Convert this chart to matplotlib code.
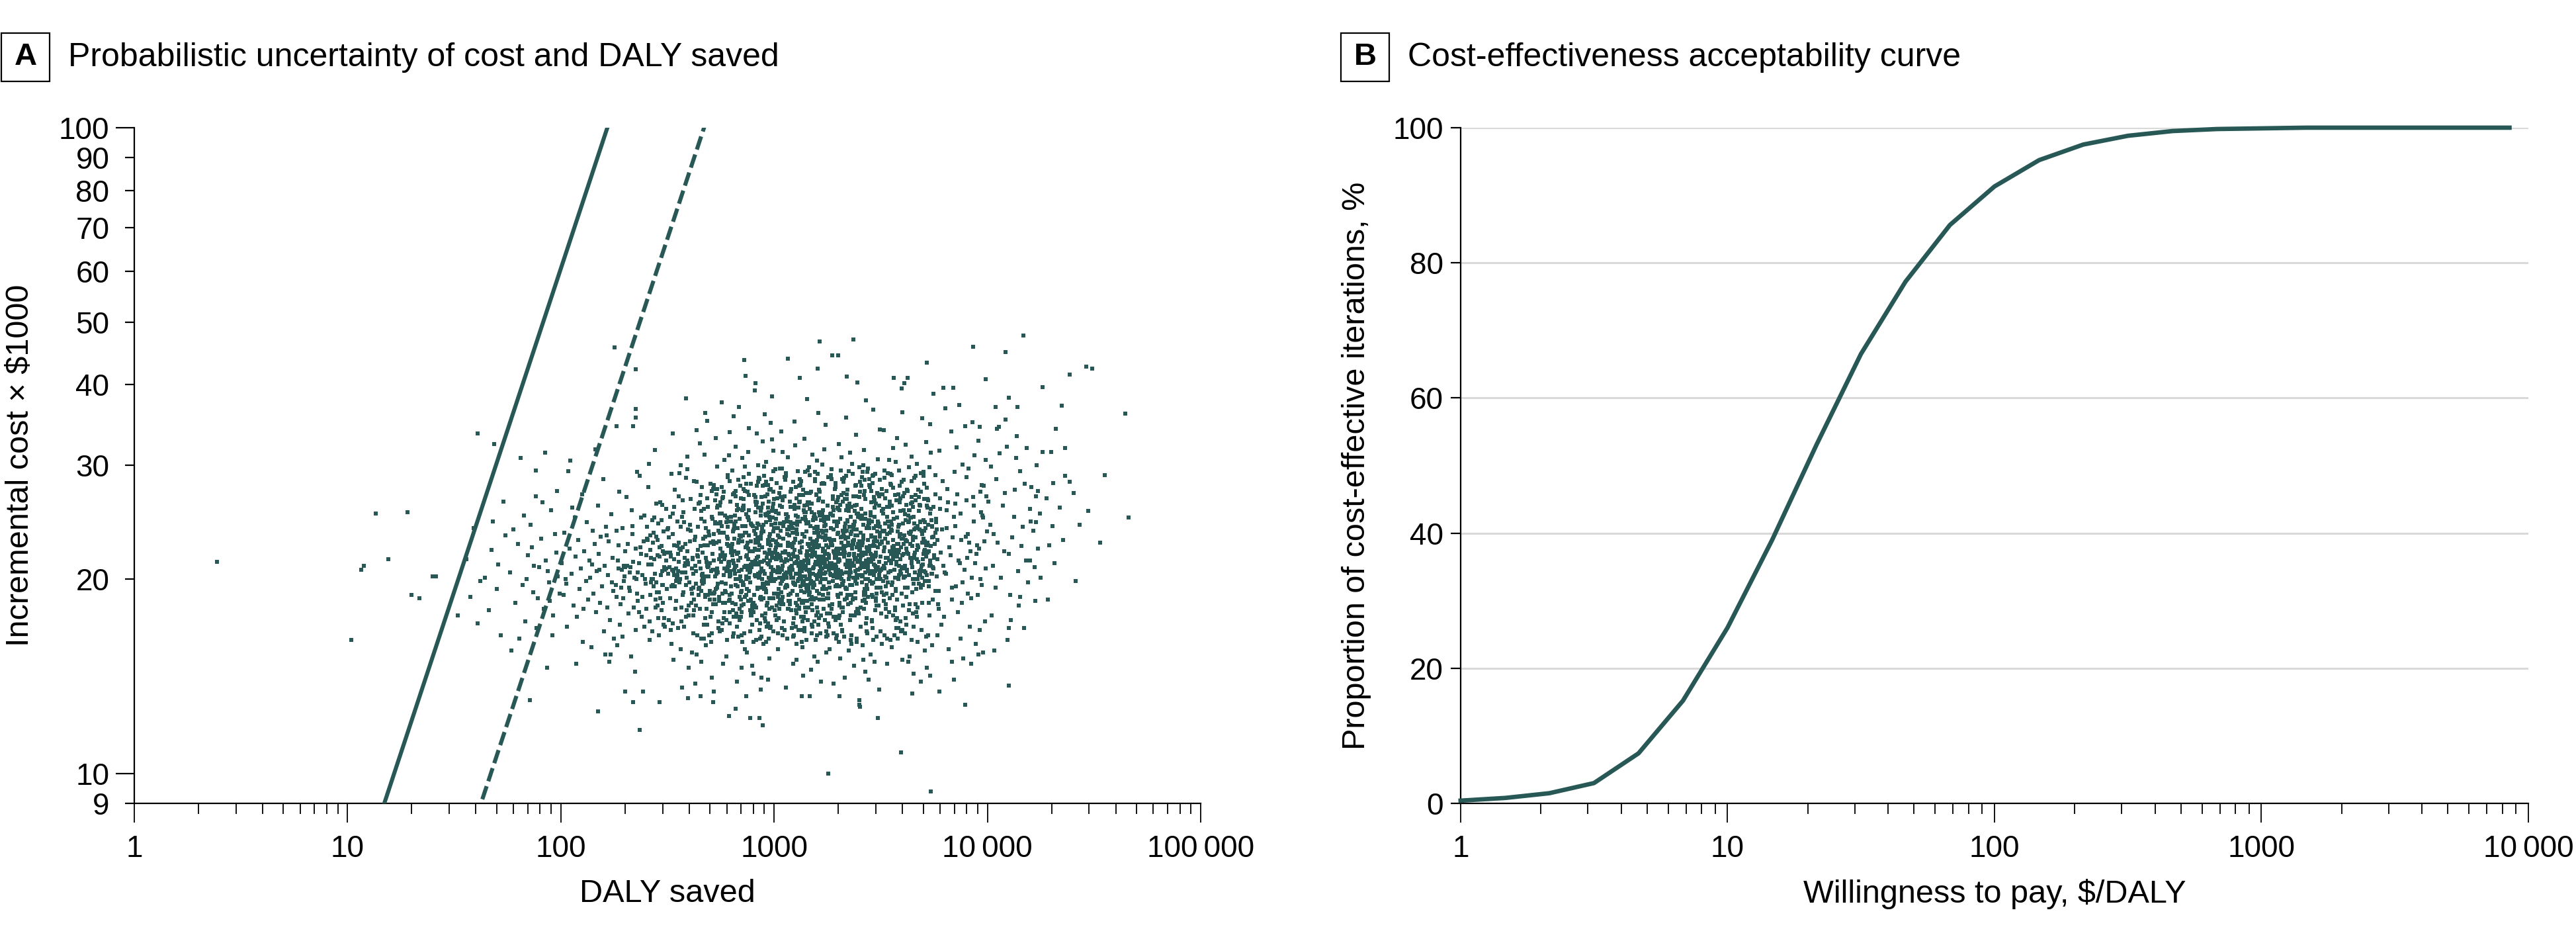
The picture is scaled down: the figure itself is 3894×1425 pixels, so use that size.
import numpy as np
import matplotlib
matplotlib.use("Agg")
import matplotlib.pyplot as plt
from matplotlib import ticker
from matplotlib.patches import Rectangle

plt.rcParams["font.family"] = ["Liberation Sans", "DejaVu Sans"]

TEAL = "#285856"

# ---- panel A: probabilistic draws (DALY saved, incremental cost in $1000) ----
psa_draws = [
    # far-left and outer points
    (2.45, 21.3), (10.4, 16.1), (11.6, 20.7), (11.9, 21.0), (13.6, 25.3), (19.1, 25.4), (15.5, 21.5),
    (20.0, 18.9), (21.8, 18.7), (25.0, 20.2), (25.9, 20.2), (40.6, 33.6), (48.6, 32.4), (33.0, 17.6),
    (179, 45.7), (224, 42.3), (224, 36.7), (224, 35.6), (183, 34.5), (65, 30.8), (84.5, 31.4), (76.4, 29.5),
    (108, 29.4), (76.4, 26.9), (53.8, 26.4), (47.9, 24.6), (47.5, 22.2), (37.7, 18.8), (40.8, 17.1),
    (52.3, 16.4), (58.7, 15.5), (71.5, 13.0), (86.5, 14.6), (150, 12.5), (234, 11.7), (201, 13.4),
    (218, 12.9), (118, 14.8), (162, 15.3), (171, 15.3),
    (614, 12.3), (659, 12.6), (774, 12.2), (851, 12.2), (883, 11.9), (396, 13.1), (452, 13.2), (523, 13.4),
    (519, 12.9), (1347, 13.2), (1469, 13.2), (2025, 13.2), (2501, 13.0), (2501, 12.8), (3069, 12.2),
    (3930, 10.8), (1790, 10.0), (5415, 9.4), (5954, 13.4), (7852, 12.8), (6839, 14.9), (9080, 15.3),
    (10800, 15.5), (12600, 13.7), (12600, 16.8), (14200, 18.8), (17700, 20.1), (15800, 21.4), (20700, 21.2),
    (33700, 22.8), (45800, 24.9), (27100, 24.3), (20200, 24.2), (16900, 24.5), (23200, 28.9), (24300, 28.3),
    (20400, 28.2), (17300, 27.4), (18200, 31.5), (19900, 31.5), (23100, 31.9), (22400, 37.1), (18200, 39.7),
    (24300, 41.5), (29100, 42.7), (31100, 42.4), (44200, 36.1), (14700, 47.7), (12200, 45.0), (8600, 45.8),
    (9800, 40.8), (10900, 37.0), (13800, 37.0), (12600, 38.2), (12200, 35.3), (11300, 34.4), (9200, 34.4),
    (5190, 43.3), (6220, 39.6), (6940, 39.6), (2360, 47.0), (1640, 46.7), (1870, 44.4), (2000, 44.4),
    (1160, 43.9), (725, 43.7), (1600, 42.4), (1320, 41.0), (2190, 41.2), (815, 40.2), (3650, 41.0),
    (4080, 40.2), (387, 38.1), (475, 36.2), (570, 37.6), (335, 33.6),
    (19500, 22.6), (21800, 25.8), (26000, 19.9), (18900, 26.7), (22700, 23.0), (25400, 27.2), (29800, 25.5),
    (35500, 29.0), (19200, 18.6), (21000, 34.2),
    # 32-56
    (44, 20.1), (50, 19.3), (36, 21.5), (55, 23.4), (42, 19.9), (46, 17.9), (51, 21.1), (39, 24.0),
    # 56-100
    (58, 20.5), (61, 18.4), (63, 22.7), (66, 19.6), (68, 17.2), (70, 21.8), (72, 24.3), (74, 19.1),
    (77, 16.8), (79, 20.9), (81, 23.1), (83, 18.0), (85, 21.4), (88, 19.8), (90, 25.6), (92, 17.6),
    (95, 22.0), (97, 20.2), (60, 23.9), (64, 16.2), (69, 20.0), (73, 22.4), (78, 18.7), (82, 26.3),
    (87, 20.6), (91, 16.4), (94, 23.5), (99, 19.0), (67, 25.1), (75, 21.0), (89, 18.5), (96, 27.4),
    # 100-178
    (101, 21.2), (103, 18.9), (104, 23.6), (106, 19.7), (107, 16.9), (110, 22.3), (112, 20.4), (113, 25.8),
    (115, 18.2), (117, 21.7), (119, 17.5), (121, 23.0), (122, 19.3), (124, 20.8), (126, 27.1), (127, 16.0),
    (129, 22.1), (131, 19.9), (132, 24.5), (134, 18.6), (136, 21.4), (137, 20.1), (139, 15.7), (141, 23.8),
    (142, 19.0), (144, 22.7), (146, 17.8), (147, 20.6), (149, 26.0), (151, 21.9), (153, 18.4), (154, 23.3),
    (156, 19.5), (158, 28.6), (159, 16.6), (161, 21.0), (163, 24.1), (165, 18.1), (166, 20.3), (168, 22.9),
    (170, 17.3), (172, 25.2), (174, 19.8), (175, 21.6), (177, 16.2), (105, 20.0), (116, 24.9), (128, 18.0),
    (140, 21.1), (152, 20.7), (164, 23.4), (176, 19.2), (111, 30.5), (145, 31.8), (169, 14.9),
    # 178-316
    (181, 19.6), (236, 22.4), (297, 17.9), (205, 21.0), (268, 24.7), (190, 18.3), (311, 20.8), (224, 16.7),
    (254, 23.1), (199, 20.2), (283, 19.1), (215, 25.6), (242, 18.8), (306, 21.9), (187, 22.6), (261, 17.2),
    (229, 20.5), (292, 26.3), (209, 19.4), (275, 21.5), (184, 15.8), (248, 20.0), (303, 23.7), (220, 18.1),
    (265, 19.8), (195, 24.0), (288, 16.4), (232, 21.2), (257, 27.8), (212, 20.9), (279, 18.6), (201, 22.1),
    (314, 19.3), (239, 17.5), (271, 22.8), (193, 20.7), (246, 25.1), (300, 18.4), (217, 23.5), (260, 16.1),
    (185, 21.4), (294, 20.3), (227, 19.0), (252, 21.8), (208, 17.7), (281, 23.3), (197, 19.9), (234, 28.9),
    (309, 22.0), (263, 18.9), (221, 20.1), (286, 24.4), (189, 17.0), (244, 22.9), (273, 19.5), (203, 26.8),
    (299, 20.6), (230, 18.5), (258, 21.1), (213, 15.2), (277, 20.4), (182, 23.8), (250, 19.7), (305, 17.4),
    (225, 22.3), (266, 20.0), (196, 18.7), (290, 21.7), (238, 24.9), (211, 19.2), (269, 16.6), (186, 20.8),
    (255, 23.0), (302, 19.6), (219, 21.3), (284, 18.2), (206, 22.7), (241, 20.3), (312, 25.7), (233, 17.8),
    (264, 21.6), (192, 19.4), (296, 22.5), (226, 20.0), (251, 18.0), (216, 24.2), (280, 19.8), (198, 21.0),
    (247, 16.9), (307, 20.7), (272, 23.6), (183, 18.8), (237, 21.9), (289, 19.1), (210, 20.5), (259, 30.2),
    (223, 14.4), (298, 26.1), (200, 20.9), (276, 31.7), (218, 34.5), (243, 13.4), (291, 12.9), (188, 27.3),
    (253, 24.1), (304, 17.0), (228, 29.3), (262, 22.2), (194, 16.3), (285, 21.8),
    # 316-562
    (318, 20.4), (402, 22.9), (527, 18.6), (351, 24.6), (468, 19.8), (335, 17.1), (553, 21.5), (389, 20.1),
    (441, 26.2), (372, 18.9), (495, 23.4), (327, 21.7), (419, 16.5), (540, 20.8), (361, 22.3), (456, 19.2),
    (343, 27.5), (511, 17.8), (396, 21.1), (480, 24.0), (331, 19.5), (430, 20.6), (558, 25.3), (378, 16.9),
    (463, 22.0), (349, 20.0), (519, 18.3), (407, 23.8), (488, 20.9), (365, 15.6), (436, 21.8), (322, 23.2),
    (545, 19.7), (384, 20.5), (474, 17.4), (357, 21.3), (503, 28.1), (413, 19.0), (339, 22.6), (530, 20.2),
    (448, 18.0), (370, 25.0), (492, 21.0), (325, 18.7), (424, 23.0), (549, 17.2), (393, 22.1), (459, 20.3),
    (346, 19.9), (515, 24.8), (381, 21.6), (470, 16.2), (333, 20.7), (537, 22.8), (410, 18.4), (484, 26.7),
    (362, 20.0), (445, 19.4), (523, 21.4), (399, 17.6), (320, 22.0), (466, 23.1), (376, 19.1), (506, 20.6),
    (433, 15.3), (354, 21.9), (556, 23.6), (417, 20.4), (477, 18.8), (341, 25.9), (498, 21.2), (387, 19.6),
    (451, 22.5), (329, 16.7), (534, 19.3), (404, 24.3), (462, 20.1), (368, 18.1), (520, 22.7), (426, 21.0),
    (347, 20.8), (486, 17.0), (391, 29.6), (543, 20.5), (438, 22.2), (359, 19.8), (508, 16.0), (415, 21.6),
    (336, 23.5), (473, 20.2), (552, 18.5), (374, 22.4), (457, 25.5), (323, 20.9), (499, 19.0), (421, 17.9),
    (383, 21.2), (528, 24.5), (444, 18.9), (352, 20.3), (490, 22.6), (408, 19.3), (340, 21.5), (547, 16.8),
    (467, 20.0), (395, 23.9), (514, 20.7), (429, 18.2), (358, 22.8), (482, 21.3), (334, 19.6), (453, 27.0),
    (538, 20.4), (386, 17.5), (475, 23.3), (412, 20.8), (525, 19.1), (366, 24.1), (440, 21.7), (501, 18.6),
    (326, 25.0), (461, 19.7), (380, 21.0), (517, 22.9), (435, 16.4), (355, 20.6), (494, 23.7), (418, 19.4),
    (559, 21.8), (345, 18.0), (471, 31.2), (398, 14.6), (532, 33.1), (427, 13.8), (364, 30.0), (509, 14.1),
    (449, 32.5), (338, 15.0), (487, 35.2), (422, 28.4), (541, 29.9), (373, 26.5), (455, 14.9), (518, 27.6),
    (392, 31.0), (330, 29.1), (478, 15.8), (433, 34.0), (555, 26.0), (369, 13.6),
    # 562-1000
    (565, 21.3), (712, 19.6), (934, 23.0), (618, 20.2), (801, 17.8), (877, 22.4), (655, 25.1), (989, 20.7),
    (741, 18.9), (590, 21.8), (846, 24.3), (687, 20.0), (963, 16.9), (603, 22.7), (776, 21.1), (912, 19.3),
    (638, 18.4), (728, 23.6), (859, 20.5), (578, 26.8), (954, 21.9), (669, 17.5), (822, 22.2), (701, 19.9),
    (985, 24.9), (625, 20.6), (788, 18.2), (897, 21.4), (572, 19.0), (751, 22.8), (943, 20.1), (646, 23.9),
    (833, 19.4), (680, 16.3), (970, 22.0), (611, 21.2), (764, 25.6), (888, 18.7), (724, 20.9), (597, 17.3),
    (868, 23.3), (693, 21.6), (925, 19.8), (632, 22.5), (812, 20.3), (976, 18.1), (662, 27.4), (745, 21.0),
    (853, 16.7), (584, 20.8), (958, 23.5), (706, 19.2), (795, 22.1), (621, 18.6), (904, 20.4), (736, 24.2),
    (675, 19.5), (839, 21.7), (994, 20.0), (607, 23.1), (770, 17.9), (881, 21.3), (650, 20.7), (948, 22.9),
    (717, 18.3), (571, 22.0), (826, 26.1), (696, 20.2), (919, 19.1), (758, 21.5), (628, 24.6), (865, 18.8),
    (981, 21.8), (685, 20.6), (805, 23.8), (594, 19.7), (937, 17.1), (733, 22.4), (659, 20.0), (850, 21.1),
    (909, 25.2), (614, 18.5), (781, 20.9), (967, 22.6), (708, 16.0), (641, 21.4), (891, 23.7), (748, 19.3),
    (580, 20.3), (817, 22.8), (952, 18.0), (672, 21.9), (842, 20.4), (999, 24.0), (719, 19.6), (600, 23.3),
    (873, 20.8), (785, 17.6), (930, 21.2), (652, 22.1), (767, 20.5), (915, 28.3), (634, 19.0), (829, 21.6),
    (690, 23.4), (961, 20.1), (575, 18.4), (754, 22.3), (884, 19.7), (715, 25.8), (988, 20.6), (616, 21.0),
    (808, 18.9), (940, 22.7), (666, 17.7), (862, 21.3), (740, 20.0), (599, 24.5), (896, 19.5), (779, 22.9),
    (973, 20.9), (644, 16.5), (837, 23.2), (703, 20.7), (922, 18.2), (586, 21.5), (760, 27.0), (857, 19.4),
    (629, 22.0), (984, 21.6), (698, 18.6), (816, 20.2), (945, 25.4), (567, 19.8), (743, 21.8), (870, 23.6),
    (657, 20.4), (906, 17.4), (792, 21.1), (611, 22.5), (957, 19.9), (730, 15.6), (848, 22.2), (679, 21.4),
    (993, 18.7), (624, 26.4), (773, 20.6), (927, 21.9), (589, 19.2), (820, 23.0), (710, 30.8), (885, 32.7),
    (637, 29.5), (966, 34.9), (756, 31.5), (606, 28.8), (901, 36.0), (799, 14.3), (671, 13.9), (950, 15.1),
    (727, 29.9), (832, 33.6), (577, 14.8), (979, 38.4), (692, 27.9), (866, 13.5), (615, 31.1), (917, 30.4),
    (747, 15.4), (647, 35.8), (855, 28.6), (991, 29.4), (703, 14.6), (583, 30.6), (811, 39.2), (936, 14.0),
    (661, 32.1), (777, 28.1), (892, 15.9), (619, 33.8), (962, 27.6), (735, 41.3), (844, 30.0), (596, 15.2),
    (686, 37.0), (913, 26.9), (789, 14.7), (651, 27.2), (977, 32.9), (720, 26.6), (874, 14.1), (608, 29.0),
    (762, 34.3), (941, 16.2), (678, 28.5), (827, 26.3), (568, 27.8), (995, 31.6), (739, 13.2), (902, 28.0),
    # 1000-1778
    (1012, 21.6), (1354, 19.8), (1703, 23.2), (1129, 20.4), (1488, 22.7), (1261, 17.9), (1617, 21.1),
    (1067, 24.4), (1420, 20.0), (1756, 19.3), (1188, 22.5), (1536, 18.6), (1305, 25.8), (1043, 20.9),
    (1662, 21.7), (1392, 16.8), (1221, 23.6), (1571, 20.3), (1098, 18.8), (1727, 22.1), (1335, 21.3),
    (1459, 26.3), (1156, 19.5), (1640, 20.6), (1024, 22.9), (1287, 18.2), (1513, 21.9), (1741, 24.8),
    (1200, 20.1), (1377, 17.4), (1082, 21.4), (1594, 23.0), (1432, 19.6), (1249, 22.2), (1685, 20.8),
    (1141, 25.2), (1364, 18.5), (1034, 20.5), (1552, 21.8), (1766, 17.7), (1275, 23.9), (1110, 20.2),
    (1473, 19.1), (1628, 22.6), (1210, 21.0), (1403, 27.2), (1055, 18.4), (1715, 21.5), (1322, 20.7),
    (1174, 23.4), (1500, 16.5), (1673, 20.0), (1240, 22.8), (1089, 19.9), (1445, 21.2), (1583, 24.1),
    (1001, 19.0), (1346, 20.6), (1698, 23.7), (1167, 18.0), (1527, 22.3), (1296, 20.4), (1745, 21.0),
    (1120, 26.9), (1413, 19.4), (1608, 21.6), (1075, 22.6), (1231, 17.1), (1651, 20.3), (1383, 23.3),
    (1194, 20.9), (1562, 18.7), (1029, 21.8), (1316, 24.6), (1480, 19.7), (1734, 22.0), (1148, 20.5),
    (1270, 15.9), (1635, 21.4), (1438, 22.7), (1060, 20.1), (1548, 24.0), (1216, 19.2), (1372, 21.1),
    (1692, 18.9), (1101, 23.1), (1466, 20.7), (1601, 22.4), (1255, 19.6), (1018, 25.5), (1340, 20.0),
    (1776, 21.9), (1182, 18.3), (1507, 22.9), (1397, 20.8), (1049, 19.3), (1667, 23.8), (1283, 21.7),
    (1136, 20.2), (1575, 17.6), (1425, 21.5), (1719, 20.4), (1203, 24.3), (1095, 21.0), (1311, 18.6),
    (1492, 22.2), (1645, 19.8), (1037, 20.6), (1359, 23.5), (1244, 21.2), (1590, 20.0), (1161, 22.8),
    (1452, 18.1), (1708, 21.6), (1072, 19.7), (1292, 25.0), (1530, 20.9), (1388, 21.4), (1226, 16.3),
    (1623, 22.5), (1115, 20.3), (1760, 23.1), (1329, 19.5), (1484, 21.8), (1007, 22.0), (1658, 20.6),
    (1196, 19.0), (1410, 24.7), (1266, 20.4), (1567, 21.3), (1085, 18.5), (1728, 21.9), (1349, 22.4),
    (1143, 20.1), (1519, 19.4), (1612, 23.6), (1237, 21.7), (1053, 20.8), (1440, 17.3), (1689, 22.1),
    (1301, 20.0), (1171, 23.9), (1556, 21.1), (1379, 19.9), (1024, 21.5), (1748, 20.5), (1213, 22.7),
    (1462, 18.9), (1105, 24.2), (1638, 20.2), (1333, 21.0), (1585, 19.2), (1257, 23.0), (1069, 20.6),
    (1496, 21.7), (1418, 16.1), (1700, 22.3), (1185, 20.8), (1542, 19.6), (1278, 21.3), (1125, 22.0),
    (1365, 18.4), (1666, 21.6), (1040, 23.4), (1474, 20.3), (1233, 19.8), (1599, 22.6), (1318, 20.9),
    (1772, 18.7), (1153, 21.4), (1503, 25.4), (1395, 20.2), (1084, 19.1), (1630, 23.3), (1219, 20.7),
    (1431, 22.1), (1712, 19.5), (1289, 21.2), (1015, 20.0), (1560, 24.9), (1179, 21.8), (1447, 19.3),
    (1621, 20.4), (1342, 28.4), (1063, 29.7), (1512, 31.2), (1207, 27.6), (1681, 30.1), (1390, 33.0),
    (1122, 28.8), (1573, 27.1), (1253, 32.2), (1035, 26.7), (1738, 34.7), (1469, 29.0), (1164, 30.9),
    (1613, 36.2), (1308, 27.9), (1093, 31.5), (1426, 38.0), (1695, 28.2), (1229, 14.8), (1549, 15.2),
    (1371, 14.2), (1046, 15.6), (1655, 13.9), (1272, 15.0), (1493, 14.5), (1133, 13.6), (1753, 15.4),
    (1401, 29.3), (1189, 26.4), (1587, 30.5), (1311, 27.0), (1080, 33.9), (1723, 31.8), (1437, 26.2),
    (1249, 35.1), (1604, 14.9), (1361, 15.7),
    # 1778-3162
    (1789, 22.4), (2356, 20.1), (3054, 23.7), (2011, 21.5), (2678, 19.2), (1912, 24.6), (2877, 21.8),
    (2189, 18.7), (2512, 22.9), (3121, 20.6), (1842, 20.3), (2443, 25.3), (2760, 21.0), (2095, 19.6),
    (2958, 22.5), (2271, 20.8), (1951, 17.5), (2615, 23.4), (3102, 21.3), (2140, 22.0), (2398, 19.9),
    (1815, 23.1), (2823, 20.4), (2047, 26.1), (2553, 21.7), (2991, 18.5), (2226, 22.8), (1880, 20.9),
    (2707, 24.0), (2330, 21.2), (3013, 19.4), (2119, 23.6), (2470, 20.7), (1990, 22.2), (2641, 18.9),
    (2914, 21.5), (2298, 25.9), (1863, 21.0), (2587, 19.8), (3140, 22.7), (2066, 20.5), (2738, 22.1),
    (2417, 17.8), (1929, 21.9), (2850, 23.3), (2248, 20.2), (2531, 21.4), (3077, 24.4), (2170, 19.3),
    (1801, 21.6), (2680, 20.0), (2362, 23.0), (2935, 21.1), (2033, 18.2), (2495, 22.6), (2789, 20.6),
    (2205, 24.7), (1967, 20.1), (2601, 21.8), (3030, 19.0), (2313, 22.3), (1895, 25.6), (2720, 20.9),
    (2452, 21.3), (2104, 23.8), (2868, 19.7), (2567, 22.0), (1828, 20.4), (2985, 21.7), (2282, 18.4),
    (2153, 22.5), (2660, 21.0), (3115, 20.3), (2388, 23.9), (1940, 19.5), (2803, 22.2), (2520, 20.8),
    (2074, 21.9), (2947, 26.8), (2235, 20.0), (1853, 22.8), (2630, 19.1), (2427, 21.6), (3068, 22.4),
    (2002, 20.7), (2748, 24.2), (2345, 21.1), (2894, 18.8), (2128, 22.3), (2579, 20.2), (1979, 23.5),
    (2698, 21.4), (3006, 20.9), (2264, 19.6), (2480, 22.7), (1822, 21.2), (2836, 25.1), (2197, 20.5),
    (2611, 22.0), (3150, 19.4), (2371, 21.8), (2058, 23.2), (2924, 20.6), (2545, 18.1), (1905, 22.1),
    (2776, 21.5), (2305, 23.7), (2462, 20.1), (3043, 22.9), (2112, 19.9), (2655, 24.8), (1871, 20.8),
    (2857, 21.3), (2219, 22.6), (2589, 20.3), (1958, 21.7), (2729, 19.3), (2406, 23.4), (2971, 21.0),
    (2083, 20.4), (2502, 22.2), (3091, 20.7), (2254, 21.9), (1836, 23.0), (2690, 20.0), (2339, 18.6),
    (2815, 22.5), (2161, 21.1), (2623, 23.1), (1998, 20.2), (2906, 21.6), (2436, 19.7), (2765, 24.5),
    (2021, 21.4), (2556, 20.9), (3126, 23.6), (2289, 20.5), (1919, 22.0), (2669, 19.0), (2385, 21.5),
    (2940, 20.3), (2137, 23.3), (2487, 21.8), (1808, 19.8), (2712, 22.4), (3022, 20.0), (2242, 21.3),
    (2571, 25.7), (1946, 20.6), (2839, 21.9), (2323, 30.2), (2089, 28.6), (2640, 31.7), (2975, 29.1),
    (1934, 27.8), (2414, 33.5), (2797, 28.0), (2177, 35.6), (2533, 27.3), (3061, 30.7), (1860, 29.6),
    (2701, 37.8), (2356, 26.9), (2012, 32.4), (2886, 28.9), (2458, 40.3), (2211, 27.5), (2612, 30.0),
    (3136, 34.1), (1985, 26.5), (2740, 29.3), (2273, 31.4), (2519, 28.3), (2922, 36.6), (2064, 27.0),
    (2376, 14.7), (2831, 15.3), (2150, 14.1), (2597, 15.8), (1897, 13.8), (2958, 14.9), (2232, 15.5),
    (2681, 14.4), (2044, 15.1), (3107, 13.5), (2446, 16.0), (1819, 15.6), (2770, 14.0), (2300, 15.9),
    (2535, 12.7), (2909, 16.1), (2124, 16.3), (2622, 15.0), (1975, 16.4), (2388, 26.0), (2856, 27.4),
    (2188, 26.6), (2504, 29.8), (3010, 26.2), (2075, 30.9),
    # 3162-5623
    (3189, 22.9), (4207, 20.6), (5511, 24.1), (3602, 21.8), (4788, 19.7), (3395, 23.5), (5102, 22.2),
    (3856, 20.3), (4512, 25.0), (5390, 21.4), (3287, 20.8), (4379, 23.7), (4965, 21.1), (3715, 19.2),
    (5233, 22.8), (4058, 21.9), (3478, 26.4), (4644, 20.0), (5589, 23.3), (3933, 22.4), (3240, 19.9),
    (4290, 24.6), (4873, 20.7), (3649, 22.1), (5330, 19.5), (4132, 23.0), (3531, 21.2), (4712, 22.6),
    (5460, 20.4), (3782, 24.9), (3344, 21.6), (4445, 19.1), (5038, 23.8), (3980, 20.9), (4580, 22.0),
    (3207, 25.5), (5167, 21.7), (3688, 20.1), (4335, 22.7), (5555, 18.6), (3878, 23.4), (4910, 21.0),
    (3427, 20.5), (4163, 22.3), (5290, 24.3), (3579, 19.8), (4681, 21.5), (4021, 23.1), (5421, 22.5),
    (3310, 20.2), (4826, 26.0), (3750, 21.3), (4478, 20.0), (5075, 22.9), (3491, 23.6), (4237, 19.4),
    (5611, 21.8), (3905, 20.6), (4609, 24.0), (3268, 22.1), (5198, 20.3), (3625, 23.0), (4410, 21.2),
    (4995, 19.6), (3815, 22.7), (4094, 25.2), (5366, 21.0), (3372, 19.0), (4755, 22.4), (3955, 20.8),
    (4546, 23.9), (5131, 20.5), (3545, 21.9), (4311, 18.3), (5487, 23.2), (3736, 21.1), (4852, 20.4),
    (3226, 23.8), (4183, 22.0), (5004, 24.7), (3663, 20.7), (4628, 19.3), (5259, 22.6), (3449, 21.4),
    (4036, 20.1), (4931, 23.5), (3841, 22.2), (5528, 20.9), (4362, 21.6), (3324, 24.4), (4731, 21.3),
    (3593, 18.9), (5060, 22.1), (4113, 20.2), (4488, 23.3), (3920, 21.5), (5315, 19.9), (3412, 22.8),
    (4267, 24.5), (4803, 20.6), (3706, 30.4), (4556, 28.7), (5147, 32.6), (3352, 27.4), (4423, 31.0),
    (3995, 36.3), (4890, 29.2), (5404, 34.8), (3517, 28.1), (4221, 41.0), (5218, 27.7), (3771, 33.1),
    (4665, 30.2), (3295, 29.5), (4078, 27.2), (5570, 38.7), (3617, 31.9), (4399, 28.4), (4952, 35.5),
    (3872, 27.9), (5350, 29.8), (3464, 30.6), (4144, 32.3), (4772, 26.8), (3258, 34.0), (5016, 28.9),
    (3960, 39.5), (4597, 26.5), (5444, 31.4), (3682, 27.0), (4327, 15.2), (5182, 14.6), (3555, 15.7),
    (4860, 13.9), (3799, 16.2), (4519, 14.3), (3198, 15.9), (5279, 16.4), (4005, 15.0), (4697, 16.0),
    (3390, 14.8), (5090, 15.5), (3941, 16.6), (4456, 13.3), (5500, 15.8), (3734, 16.8), (4246, 14.9),
    (3505, 16.1), (4917, 16.7), (5380, 14.2), (3305, 26.7), (4170, 26.1), (4743, 27.5), (3892, 26.3),
    (5242, 25.8), (3574, 29.0), (4485, 25.9), (5046, 26.6), (3826, 27.1), (4279, 25.6),
    # 5623-10000
    (5702, 23.6), (7411, 21.2), (9520, 24.9), (6290, 20.5), (8233, 22.8), (5980, 25.7), (8870, 21.9),
    (6815, 19.4), (7901, 23.3), (9811, 20.8), (5840, 21.5), (7052, 24.2), (9154, 22.3), (6538, 26.3),
    (8452, 20.1), (5655, 22.7), (7670, 19.8), (9367, 25.4), (6144, 23.9), (8041, 21.6), (7220, 27.1),
    (5920, 19.2), (8650, 24.6), (6701, 21.8), (9672, 22.9), (6388, 20.4), (7545, 23.0), (9020, 18.9),
    (5751, 24.5), (8321, 22.1), (6950, 25.0), (7789, 20.7), (9950, 23.7), (6051, 22.0), (8590, 26.8),
    (7322, 21.4), (6447, 24.0), (9255, 20.0), (5880, 18.3), (8125, 23.5), (6620, 22.4), (7108, 19.5),
    (8785, 21.2), (9601, 27.9), (6218, 21.0), (7485, 25.3), (8950, 22.6), (5780, 20.2), (8368, 18.7),
    (6880, 23.2), (7620, 30.1), (6180, 28.4), (9080, 32.8), (7012, 29.3), (8505, 35.0), (5960, 31.6),
    (9430, 28.0), (6755, 33.9), (8180, 29.7), (7380, 37.2), (9785, 30.6), (6490, 27.6), (8720, 31.1),
    (5698, 29.0), (7850, 34.5), (9305, 27.3), (6330, 36.8), (8010, 28.8), (7160, 32.0), (9880, 26.9),
    (6590, 15.6), (8410, 14.8), (5830, 16.4), (7720, 15.1), (9180, 16.7), (6985, 14.0), (8850, 15.9),
    (6100, 17.0), (7470, 16.2), (9560, 15.4), (6260, 17.5), (8280, 16.9), (7265, 17.8), (9720, 17.2),
    (5900, 18.0), (8660, 26.0), (6430, 25.6), (7960, 26.5), (9470, 25.1), (7075, 26.2), (6800, 18.6),
    (8090, 19.0), (9390, 19.6), (6015, 26.7), (7590, 18.4),
    # 10000-17783
    (10300, 24.3), (12600, 21.9), (15800, 25.7), (11200, 22.8), (13900, 20.6), (16900, 26.9), (10700, 23.5),
    (14600, 24.1), (12100, 27.2), (17300, 22.3), (11600, 20.1), (13300, 25.0), (15200, 21.4), (10100, 26.4),
    (16400, 23.8), (12800, 18.9), (14200, 29.4), (11000, 28.6), (15500, 19.8), (13600, 30.8), (10500, 17.6),
    (12300, 32.1), (16100, 27.8), (14900, 16.8), (11400, 31.3), (13100, 23.2), (17000, 30.0), (10900, 19.4),
    (15000, 28.1), (12400, 16.1), (14400, 22.5), (11800, 26.0), (16600, 20.9), (13400, 27.5), (10400, 29.9),
    (15900, 24.6), (12900, 17.3), (11100, 34.2), (14000, 18.2), (17600, 25.3), (12000, 22.1), (13700, 33.3),
    (10600, 21.0), (15300, 31.9), (16800, 18.5),
    # dense core, 250-600
    (262, 23.4), (418, 17.6), (587, 25.1), (305, 20.9), (471, 22.6), (354, 16.8), (539, 19.4), (281, 26.2),
    (446, 21.3), (398, 18.2), (512, 27.4), (327, 21.8), (574, 17.1), (379, 24.5), (458, 19.9), (293, 18.7),
    (551, 22.9), (424, 25.7), (341, 20.3), (497, 16.4), (267, 21.1), (433, 28.3), (596, 20.6), (316, 23.9),
    (482, 18.0), (365, 22.2), (529, 24.4), (286, 17.4), (452, 20.8), (407, 26.6), (520, 19.0), (336, 25.3),
    (563, 21.7), (389, 17.9), (465, 23.1), (299, 19.6), (545, 26.0), (414, 21.5), (348, 18.5), (505, 22.8),
    (274, 24.9), (441, 19.3), (581, 23.6), (321, 17.3), (489, 25.9), (371, 20.5), (533, 18.3), (290, 22.4),
    (460, 27.8), (401, 19.8), (516, 21.9), (331, 15.9), (569, 24.2), (384, 22.7), (476, 18.9), (311, 21.4),
    (557, 16.6), (428, 23.3), (358, 26.9), (493, 20.2), (279, 18.1), (438, 24.1), (592, 19.1), (325, 22.0),
    (468, 17.0), (376, 25.4), (525, 20.7), (296, 24.7), (455, 16.2), (395, 21.2), (509, 25.0), (343, 19.5),
    (560, 22.3), (386, 28.7), (479, 21.6), (308, 16.9), (548, 23.8), (421, 18.6), (352, 22.5), (500, 19.2),
    (271, 20.0), (449, 26.3), (585, 17.8), (318, 24.0), (486, 21.0), (368, 17.2), (536, 27.1), (284, 23.0),
    (463, 20.4), (411, 15.4), (522, 23.5), (338, 20.6), (571, 26.7), (392, 21.4), (473, 24.6), (302, 22.1),
    (553, 18.8), (431, 19.7), (361, 29.2), (502, 17.5),
    # dense core, 600-1200
    (612, 22.6), (897, 19.3), (1143, 24.8), (735, 21.0), (1015, 17.6), (668, 26.1), (952, 22.2), (803, 18.4),
    (1087, 20.7), (641, 23.7), (869, 25.5), (1171, 18.9), (762, 20.1), (990, 27.3), (703, 17.8), (925, 21.6),
    (1056, 23.2), (628, 19.5), (842, 22.9), (1119, 16.7), (784, 24.3), (971, 20.4), (690, 18.0), (1032, 21.9),
    (819, 26.8), (655, 20.9), (908, 17.2), (1158, 22.5), (749, 25.0), (1003, 19.0), (615, 21.3), (881, 23.9),
    (1101, 20.0), (725, 16.5), (958, 24.7), (677, 22.0), (1068, 18.6), (831, 21.2), (1190, 25.9), (771, 19.8),
    (938, 28.0), (646, 17.5), (1020, 22.8), (856, 20.3), (712, 23.4), (1134, 21.5), (797, 18.3), (985, 25.8),
    (621, 20.5), (916, 19.2), (1045, 24.0), (742, 21.7), (874, 16.3), (1180, 20.8), (683, 23.0), (966, 18.7),
    (810, 22.3), (1094, 26.5), (658, 19.6), (944, 21.1), (1008, 17.9), (757, 24.9), (891, 20.6), (1152, 23.5),
    (634, 22.4), (826, 18.1), (1062, 21.8), (718, 27.6), (979, 20.0), (863, 23.1), (1125, 19.4), (695, 21.6),
    (932, 25.3), (790, 17.0), (1039, 22.6), (604, 24.1), (850, 20.2), (1185, 18.5), (767, 22.1), (997, 19.9),
    (672, 25.6), (921, 16.9), (1076, 23.8), (815, 21.4), (728, 18.8), (1110, 24.5), (961, 20.9), (639, 22.7),
    (884, 26.2), (1027, 18.2), (753, 20.7), (1166, 21.9), (838, 24.4), (700, 19.1), (949, 23.3), (1050, 17.4),
    (624, 20.3), (903, 22.0), (1137, 25.2), (780, 18.6), (976, 21.7), (662, 24.6), (1083, 20.1), (822, 16.1),
    (738, 23.6), (1012, 22.2), (895, 19.7), (1175, 24.0), (648, 21.2), (806, 27.0), (929, 18.4), (1058, 20.5),
    (709, 22.9), (1147, 19.6), (867, 25.1), (617, 18.9), (989, 23.7), (775, 20.8), (1092, 16.8), (687, 24.8),
    (954, 21.4), (835, 19.3), (1023, 25.4), (744, 22.5), (1163, 18.0), (876, 20.0), (652, 23.1), (1070, 21.6),
    (795, 24.2), (912, 17.7), (1001, 20.6), (721, 25.7), (1128, 22.1), (858, 18.7), (636, 21.8), (942, 26.4),
    (1047, 19.0), (764, 23.4), (1194, 20.4), (828, 17.3), (680, 22.8), (968, 24.3), (1105, 18.3), (787, 21.3),
    (887, 27.9), (607, 20.9), (1036, 22.7), (715, 19.8), (1155, 23.9), (846, 20.1), (994, 16.6), (664, 21.0),
    (919, 24.5), (1079, 20.7), (754, 18.5), (1018, 22.4), (871, 25.8), (1140, 19.5), (697, 23.3), (812, 21.1),
    (935, 19.7), (1065, 26.0), (630, 22.3), (779, 17.6), (982, 23.0), (1116, 21.3), (738, 20.2), (900, 28.9),
    (1041, 18.8), (673, 24.0), (853, 22.6), (1178, 20.6), (760, 19.2), (947, 25.0), (1029, 21.5), (642, 17.9),
    (818, 23.5), (1098, 22.0), (706, 18.2), (973, 20.3),
    # dense core, 1200-2500
    (1231, 21.9), (1788, 18.7), (2390, 24.6), (1455, 22.5), (2041, 20.1), (1310, 26.3), (1912, 23.0),
    (1602, 17.8), (2214, 21.4), (1376, 19.6), (1705, 24.9), (2455, 20.7), (1527, 22.2), (1267, 16.9),
    (1985, 25.8), (1650, 20.4), (2302, 18.9), (1421, 23.7), (1829, 21.1), (2120, 27.2), (1338, 19.2),
    (1576, 22.8), (2006, 17.4), (1744, 23.4), (2367, 21.0), (1248, 24.4), (1489, 19.9), (1876, 22.6),
    (2178, 20.5), (1622, 26.7), (1399, 18.1), (2083, 23.3), (1293, 21.6), (1681, 19.3), (2431, 22.4),
    (1545, 25.2), (1952, 20.9), (1358, 17.2), (2261, 24.1), (1812, 21.8), (1467, 20.0), (1719, 28.1),
    (2148, 18.6), (1216, 22.7), (1593, 23.9), (2024, 19.5), (1437, 21.2), (1897, 16.5), (2338, 22.9),
    (1664, 24.7), (1323, 20.3), (1768, 21.5), (2237, 25.5), (1506, 18.3), (1935, 22.1), (1282, 23.5),
    (2412, 19.1), (1633, 21.7), (2062, 20.6), (1388, 26.0), (1853, 18.0), (1559, 22.0), (2197, 23.8),
    (1241, 19.7), (1730, 20.9), (2482, 25.0), (1448, 21.4), (1974, 24.2), (1613, 17.0), (2322, 21.1),
    (1346, 22.9), (1795, 19.0), (2102, 26.4), (1520, 20.8), (1260, 18.4), (1691, 23.6), (2016, 21.9),
    (1409, 25.4), (1917, 20.2), (2280, 17.6), (1583, 22.4), (1840, 24.0), (1303, 21.0), (2160, 19.4),
    (1476, 23.1), (2446, 20.3), (1752, 22.6), (1365, 27.0), (1999, 18.8), (1642, 21.3), (2223, 23.2),
    (1225, 20.1), (1881, 25.1), (1537, 19.8), (2049, 22.3), (1428, 18.5), (1807, 20.7), (2355, 24.3),
    (1671, 21.5), (1316, 22.8), (1963, 19.6), (1498, 26.2), (2135, 21.7), (1275, 17.7), (1736, 23.0),
    (2398, 20.6), (1566, 24.8), (1924, 22.0), (1386, 19.1), (2269, 21.4), (1814, 18.2), (1611, 23.3),
    (2075, 20.0), (1440, 24.5), (1864, 21.2), (1237, 25.9), (2185, 19.3), (1700, 22.1), (1517, 20.4),
    (1990, 23.6), (1352, 16.7), (2317, 22.6), (1778, 20.9), (1625, 27.5), (2031, 18.4), (1414, 21.8),
    (1906, 23.9), (1296, 19.9), (2249, 21.0), (1659, 25.3), (1483, 22.3), (1823, 19.4), (2465, 23.4),
    (1206, 21.5), (1943, 17.3), (1598, 24.0), (2112, 22.5), (1370, 20.2), (1759, 23.8), (2206, 18.9),
    (1550, 21.1), (1890, 26.6), (1331, 22.0), (2058, 19.0), (1713, 24.6), (1459, 20.6), (2374, 21.9),
    (1256, 23.1), (1979, 20.4), (1637, 18.6), (2168, 25.6), (1398, 21.4), (1847, 22.7), (1512, 17.9),
    (2290, 23.5), (1686, 20.0), (1287, 24.3), (1928, 21.6), (2091, 19.7), (1574, 22.9), (1801, 20.8),
    (2427, 26.9), (1432, 19.2), (1727, 21.3), (2001, 24.5), (1339, 20.1), (1955, 22.2), (1620, 19.0),
    (2243, 21.8), (1471, 25.7), (1870, 18.3), (1218, 22.4), (2138, 23.7), (1656, 20.7), (1403, 21.0),
    (1790, 24.8), (2327, 19.6), (1532, 22.6), (1908, 20.3), (1311, 18.0), (2068, 22.8), (1698, 23.2),
    (1449, 19.5), (2193, 20.9), (1836, 25.2), (1588, 21.7), (2406, 18.7), (1272, 23.6), (1947, 21.1),
    (1743, 20.0), (1493, 27.3), (2118, 22.0), (1381, 17.5), (1858, 23.0), (2264, 20.5), (1606, 24.1),
    (1229, 19.8), (1966, 22.3), (1675, 21.2), (2440, 23.9), (1417, 20.7), (1783, 16.4), (2036, 21.9),
    (1542, 23.6), (1319, 22.1), (1885, 19.9), (2211, 24.6), (1647, 21.0), (1460, 18.9), (2349, 22.7),
    (1762, 25.0), (1355, 20.8), (2094, 18.1), (1570, 22.5), (1991, 21.3), (1244, 26.1), (1718, 19.3),
    (2153, 23.1), (1426, 21.6), (1899, 20.2),
    # dense core, 2500-6000
    (2521, 22.3), (3405, 19.8), (4710, 24.2), (2830, 21.4), (3915, 23.5), (2655, 18.6), (5230, 22.0),
    (3120, 26.0), (4280, 20.3), (2940, 22.9), (3688, 17.9), (5605, 21.6), (2581, 25.1), (4105, 21.0),
    (3290, 23.8), (4890, 19.4), (2760, 20.7), (3540, 24.6), (4450, 22.5), (3030, 18.2), (5410, 25.7),
    (2690, 21.9), (3820, 20.0), (4620, 23.2), (3195, 19.1), (2548, 23.6), (4010, 26.9), (3350, 21.2),
    (5050, 20.6), (2880, 17.3), (3760, 22.7), (4370, 24.9), (2610, 20.2), (3480, 22.1), (5810, 23.0),
    (3070, 20.9), (4180, 18.8), (2795, 24.4), (3625, 21.5), (4960, 22.8), (3235, 25.3), (2715, 19.6),
    (4550, 21.8), (3870, 23.3), (2995, 22.0), (5330, 18.4), (3440, 20.5), (4240, 27.4), (2570, 21.1),
    (3720, 19.3), (4800, 23.9), (3150, 21.7), (2860, 26.3), (4045, 20.8), (3590, 22.4), (5120, 24.0),
    (2640, 18.0), (3310, 23.1), (4400, 21.3), (3960, 19.0), (2925, 22.6), (5520, 20.4), (3385, 25.0),
    (4660, 22.2), (2745, 20.0), (3795, 23.7), (4130, 17.4), (3055, 24.3), (5000, 21.9), (2600, 22.8),
    (3520, 20.6), (4330, 25.6), (2810, 19.9), (3655, 22.0), (4930, 20.1), (3260, 18.5), (4070, 23.4),
    (2540, 20.3), (5260, 26.5), (3415, 21.6), (2970, 23.2), (4505, 19.7), (3850, 21.0), (2680, 24.8),
    (3180, 20.7), (4750, 22.4), (5700, 19.2), (3565, 23.8), (2900, 21.5), (4210, 22.9), (3330, 19.5),
    (2565, 27.9), (3990, 21.8), (4850, 24.5), (3100, 20.2), (2775, 22.1), (3700, 18.1), (4480, 23.0),
    (5380, 21.2), (3460, 24.1), (2630, 20.9), (4155, 22.3), (3025, 19.0), (3900, 25.5), (4570, 20.5),
    (2845, 23.4), (5150, 22.7), (3270, 21.0), (3615, 17.6), (4300, 23.6), (2725, 21.3), (3935, 20.4),
    (5470, 24.7), (3205, 22.8), (4700, 20.0), (2955, 25.8), (3505, 21.4), (4095, 19.4), (2590, 22.6),
    (5020, 23.1), (3780, 21.7), (3365, 20.1), (4390, 26.2), (2870, 18.9), (3640, 22.5), (4990, 21.5),
    (3135, 23.3), (2660, 19.3), (4265, 21.9), (5580, 20.8), (3450, 24.2), (3830, 22.0), (2985, 20.6),
    (4610, 18.3), (3240, 23.7), (2555, 21.7), (4020, 24.4), (5310, 22.1), (3570, 19.6), (2755, 23.0),
    (4440, 20.9), (3085, 27.1), (3740, 21.1), (4910, 23.8), (2915, 19.8), (3300, 22.4), (4190, 20.7),
    (5750, 24.8), (2620, 21.2), (3495, 18.7), (3950, 23.1), (4520, 21.6), (3165, 20.0), (2800, 24.0),
    (5090, 19.9), (3680, 22.2), (4345, 23.5), (3010, 21.8), (2700, 18.4), (4060, 22.7), (5440, 21.0),
    (3395, 25.9), (4780, 20.3), (3865, 24.3), (2895, 22.5), (3220, 20.8), (4640, 17.8), (3545, 23.9),
    (5180, 22.6), (2675, 20.5),
    # core shoulders, 16-30
    (455, 24.8), (1320, 28.6), (2870, 17.2), (705, 16.4), (1890, 25.9), (3610, 27.7), (980, 18.1), (2240, 29.4),
    (560, 26.3), (1510, 16.9), (4120, 25.2), (830, 27.9), (1705, 18.6), (3070, 24.6), (620, 17.8), (2510, 26.8),
    (1150, 16.2), (4680, 17.5), (760, 29.1), (2050, 17.0), (1390, 25.4), (3350, 18.3), (520, 28.0), (1610, 26.5),
    (2720, 16.6), (890, 24.3), (5200, 26.0), (1240, 17.4), (2180, 28.9), (680, 25.7), (3820, 16.8), (1060, 27.2),
    (1980, 18.9), (2950, 25.0), (590, 18.4), (1460, 29.8), (4350, 24.9), (800, 16.0), (2380, 25.5), (1120, 26.9),
    (3180, 17.7), (730, 27.4), (1750, 16.3), (2640, 27.0), (480, 17.0), (1280, 24.6), (3950, 28.3), (940, 25.8),
    (2090, 16.7), (1560, 28.4), (5500, 24.2), (650, 24.1), (2460, 18.0), (1010, 29.6), (3480, 26.2), (1800, 24.9),
    (860, 17.1), (2800, 28.6), (1350, 18.4), (4880, 27.3), (570, 25.3), (1660, 17.6), (3240, 25.7), (1190, 24.5),
    (2290, 16.1), (720, 28.8), (4020, 18.2), (1430, 26.1), (2560, 24.8), (960, 16.8), (1930, 27.6), (3720, 17.3),
    (640, 27.1), (1520, 24.7), (2990, 18.7), (1090, 25.9), (4510, 16.9), (780, 24.4), (2140, 26.6), (1710, 18.0),
    (3420, 29.2), (510, 16.5), (1260, 27.8), (2680, 25.3), (870, 18.6), (5050, 28.1), (1590, 16.4), (2350, 24.0),
    (1030, 28.2), (3900, 26.7), (700, 17.5), (1850, 29.0), (2900, 16.8), (1400, 25.0), (4280, 17.9), (610, 24.6),
    (2020, 25.6), (1170, 18.5), (3560, 24.3), (820, 26.4), (1640, 27.3), (2480, 17.9), (540, 27.6), (1300, 16.7),
    (3130, 28.5), (920, 25.1), (4760, 25.5), (1950, 16.2), (1480, 24.2), (2760, 29.7), (690, 18.8), (3700, 27.0),
    (1110, 17.2), (2200, 25.8), (5350, 17.6), (850, 28.7), (1780, 26.0), (2600, 18.5), (1370, 27.5), (4150, 24.7),
    (600, 16.1), (2070, 18.1), (1000, 26.6), (3300, 16.4), (1550, 29.3), (740, 25.2), (2410, 27.9), (4600, 28.9),
    (1220, 24.0), (2930, 26.4), (470, 25.7), (1830, 17.7), (3050, 27.2), (940, 17.0), (1690, 25.6), (4400, 16.1),
    (660, 26.9), (2270, 17.3), (1330, 28.0), (3600, 25.4), (810, 18.2), (1970, 24.5), (2820, 27.8), (1140, 29.2),
    (5600, 25.9), (580, 17.4), (1500, 18.8), (2520, 24.9), (1040, 16.5), (3860, 29.5), (710, 24.2), (2110, 28.3),
    (1620, 17.4), (3150, 16.6), (900, 29.9), (4850, 24.6), (1250, 25.7), (2390, 17.6), (1800, 28.8), (630, 25.0),
    (3400, 24.6), (1080, 18.3), (2700, 17.1), (1440, 26.3), (4200, 27.5), (770, 16.6), (2000, 26.8), (1200, 17.9),
    (3000, 24.2), (550, 24.4), (1740, 24.3), (2580, 28.8), (980, 25.5), (3780, 18.6), (1350, 16.0), (5150, 16.3),
    (840, 25.8), (2160, 24.4), (1580, 27.0), (3270, 18.9), (670, 16.9), (2440, 26.1), (1130, 28.5), (4450, 26.3),
    (1900, 17.5), (720, 26.0), (2840, 25.4), (1410, 17.8), (3530, 28.0), (1020, 24.8), (490, 18.9), (1670, 28.1),
    (2310, 16.4), (930, 27.1), (3980, 16.7), (1270, 26.7), (2060, 29.5), (5800, 23.9), (1540, 17.2), (760, 24.7),
    (2980, 17.9), (1180, 24.1), (3640, 24.8), (1760, 16.6), (620, 28.4), (2470, 25.3), (1060, 18.0), (4300, 29.8),
    (1450, 24.5), (2730, 16.5), (880, 17.6), (1950, 26.3), (3200, 27.6), (1310, 18.1), (5400, 25.3), (530, 26.5),
    (2230, 18.3), (1630, 25.1), (3760, 17.4), (990, 26.2), (2620, 24.3), (1210, 16.8), (4060, 25.6), (1860, 28.6),
    (690, 17.3), (2920, 29.0), (1470, 27.2), (3380, 16.2), (830, 24.0), (2100, 17.8), (1720, 24.2), (4700, 18.1),
    (1070, 27.7), (2550, 16.9), (600, 24.9), (3120, 26.9), (1380, 25.6), (2010, 16.0), (5000, 29.3), (950, 18.7),
    (1570, 16.1), (2790, 24.7), (750, 27.3), (3460, 25.9), (1160, 25.0), (2330, 29.1), (4180, 17.0), (1820, 18.2),
    (640, 16.3), (2650, 27.4), (1290, 29.4), (3880, 27.9), (870, 26.8), (2150, 24.1), (1500, 17.0), (3020, 16.3),
    (560, 24.5), (1940, 28.2), (4540, 24.4), (1100, 16.4), (2420, 28.0), (1680, 25.2), (3290, 28.7), (790, 18.0),
    (2870, 24.6), (1340, 17.5), (5700, 27.1), (970, 28.6), (2260, 26.2), (1600, 29.1), (3660, 16.4), (710, 25.6),
    (2040, 24.8), (1230, 28.3), (4400, 26.8), (1790, 17.1), (2500, 17.7), (1050, 25.3), (3340, 18.0), (580, 27.3),
    (1420, 24.4), (2960, 26.5), (860, 16.2), (4950, 18.4), (1880, 26.9), (2710, 17.4), (1140, 28.9), (3550, 26.0),
    (660, 18.3), (2190, 27.1), (1530, 24.9), (4050, 28.5), (920, 16.0), (2370, 24.3), (1320, 26.4), (3080, 18.2),
    (740, 28.1), (1730, 17.3), (5250, 26.6), (1010, 24.4), (2600, 29.3), (1480, 18.6), (3830, 24.1), (820, 25.4),
    (2080, 16.6), (1260, 25.1), (4620, 27.0), (1960, 24.6), (620, 17.1), (2900, 28.2), (1590, 18.1), (3370, 17.5),
    (1090, 29.7), (2280, 25.0), (780, 17.7), (4250, 25.1), (1700, 26.4), (2440, 16.2), (1190, 27.3), (3140, 24.1),
    (540, 25.8), (1840, 25.3), (2680, 26.6), (950, 27.5), (3920, 17.2), (1360, 24.8), (2130, 28.7), (5100, 24.5),
    (700, 26.7), (1650, 16.5), (2750, 18.8), (1240, 16.4), (3500, 29.1), (880, 24.1), (1990, 25.7), (4480, 17.7),
    (1440, 29.5), (2350, 18.7), (1030, 17.3), (3230, 27.1), (650, 24.4), (1810, 16.9), (2560, 25.7), (1160, 24.6),
    (3750, 26.5), (1560, 28.6), (2030, 17.6), (840, 28.3), (4820, 26.1), (1390, 16.6), (2940, 24.0), (1070, 26.8),
    (3450, 17.8), (770, 18.5), (2210, 26.0), (1620, 25.4), (4100, 16.5), (1280, 18.9), (2650, 28.5), (570, 16.7),
]
daly_saved = np.array([d for d, c in psa_draws])
incremental_cost = np.array([c for d, c in psa_draws])

# willingness-to-pay threshold lines, $ per DALY
wtp_solid = 605
wtp_dashed = 213

# ---- panel B: acceptability curve ----
wtp = [1, 1.47, 2.15, 3.16, 4.64, 6.81, 10, 14.7, 21.5, 31.6, 46.4, 68.1, 100, 147, 215, 316,
       464, 681, 1000, 1468, 2154, 3162, 4642, 6813, 8500]
pct_ce = [0.4, 0.8, 1.5, 3.0, 7.4, 15.2, 26.0, 39.0, 53.0, 66.5, 77.2, 85.6, 91.3, 95.2, 97.5, 98.8,
          99.5, 99.8, 99.9, 100, 100, 100, 100, 100, 100]

fig = plt.figure(figsize=(38.94, 14.25), dpi=100)
axA = fig.add_axes([0.0521, 0.1481, 0.4140, 0.7165])
axB = fig.add_axes([0.5670, 0.1481, 0.4145, 0.7165])

TICK = 33
LAB = 35

for ax in (axA, axB):
    ax.spines[["top", "right"]].set_visible(False)
    ax.spines[["left", "bottom"]].set_linewidth(1.6)
    ax.set_xscale("log")

# panel A
axA.scatter(daly_saved, incremental_cost, s=18, marker="s", color=TEAL, linewidths=0, zorder=3)
xs = np.array([1, 1e5])
axA.plot(xs, wtp_solid * xs / 1000, color=TEAL, lw=4.4, solid_capstyle="butt", zorder=4)
axA.plot(xs, wtp_dashed * xs / 1000, color=TEAL, lw=4.4, dashes=(3.4, 1.3), zorder=4)
axA.set_yscale("log")
axA.set_xlim(1, 1e5)
axA.set_ylim(9, 100)
axA.xaxis.set_major_locator(ticker.FixedLocator([1, 10, 100, 1000, 1e4, 1e5]))
axA.xaxis.set_major_formatter(ticker.FixedFormatter(["1", "10", "100", "1000", "10\u2009000", "100\u2009000"]))
axA.xaxis.set_minor_locator(ticker.LogLocator(base=10, subs=np.arange(2, 10)))
axA.xaxis.set_minor_formatter(ticker.NullFormatter())
axA.yaxis.set_major_locator(ticker.FixedLocator([10, 100]))
axA.yaxis.set_major_formatter(ticker.FixedFormatter(["10", "100"]))
ymin = [9, 20, 30, 40, 50, 60, 70, 80, 90]
axA.yaxis.set_minor_locator(ticker.FixedLocator(ymin))
axA.yaxis.set_minor_formatter(ticker.FixedFormatter([str(v) for v in ymin]))
axA.tick_params(axis="y", which="major", length=20, width=1.6, pad=7, labelsize=TICK)
axA.tick_params(axis="y", which="minor", length=10, width=1.6, pad=17, labelsize=TICK)
axA.tick_params(axis="x", which="major", length=21, width=1.3, pad=13, labelsize=TICK)
axA.tick_params(axis="x", which="minor", length=11.5, width=1.3)
axA.set_xlabel("DALY saved", fontsize=LAB)
axA.set_ylabel("Incremental cost \u00d7 $1000", fontsize=LAB)
axA.xaxis.set_label_coords(0.5, -0.112)
axA.yaxis.set_label_coords(-0.093, 0.5)

# panel B
axB.plot(wtp, pct_ce, color=TEAL, lw=4.8, zorder=4, clip_on=False)
axB.set_xlim(1, 1e4)
axB.set_ylim(0, 100)
axB.set_yticks([0, 20, 40, 60, 80, 100])
axB.yaxis.grid(True, color="#d9d9d9", lw=2.2)
axB.set_axisbelow(True)
axB.xaxis.set_major_locator(ticker.FixedLocator([1, 10, 100, 1000, 1e4]))
axB.xaxis.set_major_formatter(ticker.FixedFormatter(["1", "10", "100", "1000", "10\u2009000"]))
axB.xaxis.set_minor_locator(ticker.LogLocator(base=10, subs=np.arange(2, 10)))
axB.xaxis.set_minor_formatter(ticker.NullFormatter())
axB.tick_params(axis="y", length=11, width=1.6, pad=8, labelsize=TICK)
axB.tick_params(axis="x", which="major", length=21, width=1.3, pad=13, labelsize=TICK)
axB.tick_params(axis="x", which="minor", length=11.5, width=1.3)
axB.set_xlabel("Willingness to pay, $/DALY", fontsize=LAB)
axB.set_ylabel("Proportion of cost-effective iterations, %", fontsize=LAB)
axB.xaxis.set_label_coords(0.5, -0.112)
axB.yaxis.set_label_coords(-0.0836, 0.5)

# panel headers: boxed letter + title
W, H = 3894, 1425
for x0, letter, title in [(2, "A", "Probabilistic uncertainty of cost and DALY saved"),
                          (2027, "B", "Cost-effectiveness acceptability curve")]:
    fig.patches.append(Rectangle((x0 / W, 1 - 123 / H), 73 / W, 73 / H, transform=fig.transFigure,
                                 fill=False, lw=1.6, edgecolor="black"))
    fig.text((x0 + 36.5) / W, 1 - 86.5 / H, letter, fontsize=34, fontweight="bold",
             ha="center", va="center")
    fig.text((x0 + 101) / W, 1 - 86.5 / H, title, fontsize=36, ha="left", va="center")

fig.savefig("out.png", dpi=100)
